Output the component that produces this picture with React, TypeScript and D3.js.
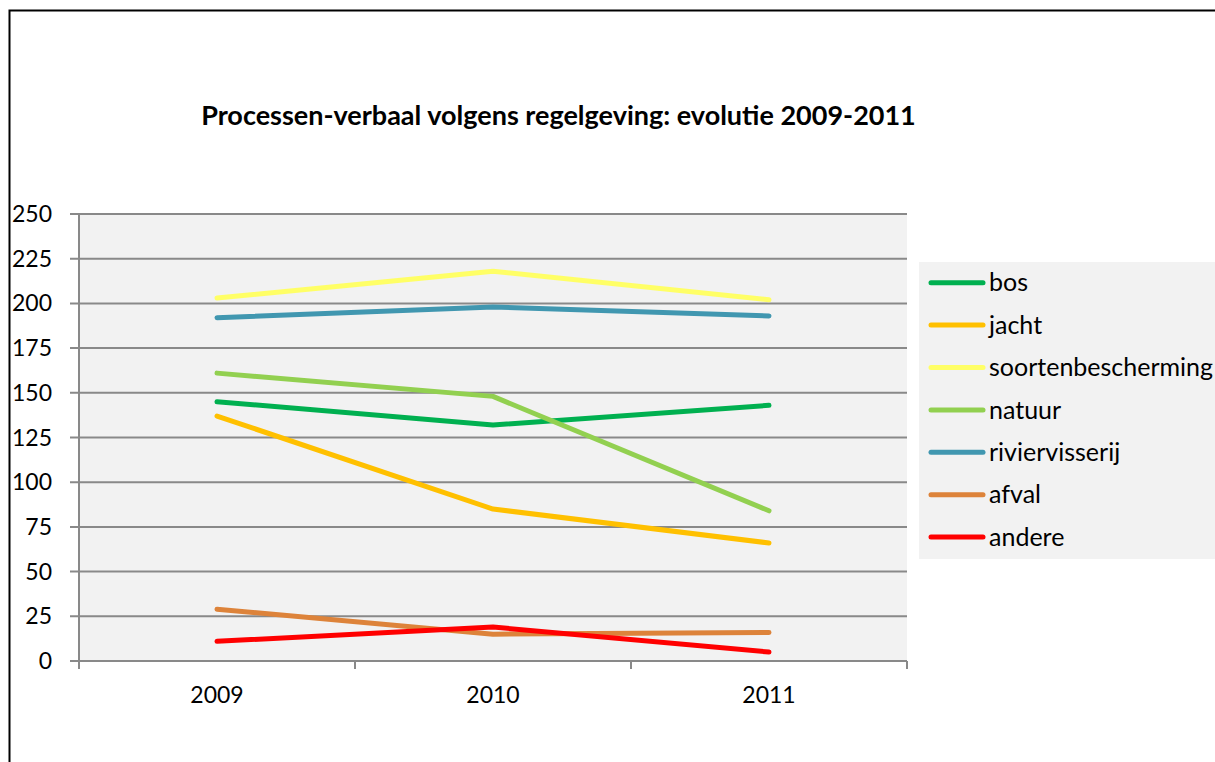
import React, { useRef, useEffect } from 'react';
import * as d3 from 'd3';

const years = ['2009', '2010', '2011'];
const seriesNames = ['bos', 'jacht', 'soortenbescherming', 'natuur', 'riviervisserij', 'afval', 'andere'];
const seriesColors = ['#00b050', '#ffc000', '#ffff66', '#92d050', '#4197b0', '#dd833a', '#ff0000'];
const bos = [145, 132, 143];
const jacht = [137, 85, 66];
const soortenbescherming = [203, 218, 202];
const natuur = [161, 148, 84];
const riviervisserij = [192, 198, 193];
const afval = [29, 15, 16];
const andere = [11, 19, 5];
const seriesValues = [bos, jacht, soortenbescherming, natuur, riviervisserij, afval, andere];
const yTicks = [0, 25, 50, 75, 100, 125, 150, 175, 200, 225, 250];
const title = 'Processen-verbaal volgens regelgeving: evolutie 2009-2011';

const FONT = 'Lato, "Open Sans", sans-serif';

export default function App() {
  const svgRef = useRef<SVGSVGElement>(null);

  useEffect(() => {
    const svg = d3.select(svgRef.current);
    svg.selectAll('*').remove();

    const width = 1215;
    const height = 762;
    const plot = { left: 79, right: 907, top: 214, bottom: 661 };

    svg.attr('width', width).attr('height', height);

    // outer frame
    svg.append('rect')
      .attr('x', 9.5).attr('y', 10.5)
      .attr('width', width + 20).attr('height', height + 20)
      .attr('fill', '#fff')
      .attr('stroke', '#000')
      .attr('stroke-width', 2);

    svg.append('text')
      .attr('x', 558.5)
      .attr('y', 125)
      .attr('text-anchor', 'middle')
      .attr('font-family', FONT)
      .attr('font-weight', 'bold')
      .attr('font-size', 27)
      .attr('fill', '#000')
      .text(title);

    const x = d3.scaleBand().domain(years).range([plot.left, plot.right]);
    const y = d3.scaleLinear().domain([0, 250]).range([plot.bottom, plot.top]);

    svg.append('rect')
      .attr('x', plot.left).attr('y', plot.top)
      .attr('width', plot.right - plot.left).attr('height', plot.bottom - plot.top)
      .attr('fill', '#f2f2f2');

    // gridlines
    svg.append('g')
      .selectAll('line')
      .data(yTicks)
      .join('line')
      .attr('x1', plot.left - 9).attr('x2', plot.right)
      .attr('y1', d => y(d)).attr('y2', d => y(d))
      .attr('stroke', '#898989')
      .attr('stroke-width', 2);

    // y axis line
    svg.append('line')
      .attr('x1', plot.left).attr('x2', plot.left)
      .attr('y1', plot.top).attr('y2', plot.bottom + 8)
      .attr('stroke', '#898989').attr('stroke-width', 2);

    // x ticks at category boundaries
    const bounds = years.map(d => x(d) as number).concat([plot.right]);
    svg.append('g')
      .selectAll('line')
      .data(bounds)
      .join('line')
      .attr('x1', d => d).attr('x2', d => d)
      .attr('y1', plot.bottom).attr('y2', plot.bottom + 8)
      .attr('stroke', '#898989').attr('stroke-width', 2);

    svg.append('g')
      .selectAll('text')
      .data(yTicks)
      .join('text')
      .attr('x', 52)
      .attr('y', d => y(d))
      .attr('dy', '0.35em')
      .attr('text-anchor', 'end')
      .attr('font-family', FONT)
      .attr('font-size', 23)
      .attr('fill', '#000')
      .text(d => d);

    svg.append('g')
      .selectAll('text')
      .data(years)
      .join('text')
      .attr('x', d => (x(d) as number) + x.bandwidth() / 2)
      .attr('y', 703)
      .attr('text-anchor', 'middle')
      .attr('font-family', FONT)
      .attr('font-size', 23)
      .attr('fill', '#000')
      .text(d => d);

    const line = d3.line<number>()
      .x((_, i) => (x(years[i]) as number) + x.bandwidth() / 2)
      .y(d => y(d));

    svg.append('g')
      .selectAll('path')
      .data(seriesValues)
      .join('path')
      .attr('d', d => line(d))
      .attr('fill', 'none')
      .attr('stroke', (_, i) => seriesColors[i])
      .attr('stroke-width', 5)
      .attr('stroke-linecap', 'round')
      .attr('stroke-linejoin', 'round');

    // legend
    const legend = svg.append('g');
    legend.append('rect')
      .attr('x', 919).attr('y', 262)
      .attr('width', 300).attr('height', 297)
      .attr('fill', '#f2f2f2');

    const rows = legend.selectAll('g')
      .data(seriesNames)
      .join('g')
      .attr('transform', (_, i) => `translate(0,${282.7 + i * 42.4})`);

    rows.append('line')
      .attr('x1', 931).attr('x2', 983)
      .attr('y1', 0).attr('y2', 0)
      .attr('stroke', (_, i) => seriesColors[i])
      .attr('stroke-width', 5)
      .attr('stroke-linecap', 'round');

    rows.append('text')
      .attr('x', 989)
      .attr('y', 0)
      .attr('dy', '0.35em')
      .attr('font-family', FONT)
      .attr('font-size', 25)
      .attr('fill', '#000')
      .text(d => d);
  }, []);

  return (
    <div style={{ position: 'absolute', left: 0, top: 0, width: 1215, height: 762, overflow: 'hidden' }}>
      <svg ref={svgRef} style={{ display: 'block' }} />
    </div>
  );
}
